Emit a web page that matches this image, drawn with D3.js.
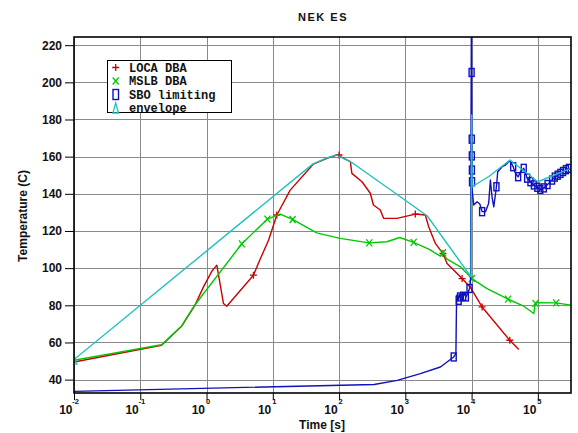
<!DOCTYPE html>
<html><head><meta charset="utf-8">
<script src="https://cdn.jsdelivr.net/npm/d3@7"></script>
<style>body{margin:0;background:#fff}</style>
</head><body>
<svg id="c" width="578" height="433"></svg>
<script>
// ---------------- data ----------------
const chartTitle = "NEK ES";
const xLabel = "Time [s]";
const yLabel = "Temperature (C)";
const xTickExps = [-2, -1, 0, 1, 2, 3, 4, 5];
const yTicks = [40, 60, 80, 100, 120, 140, 160, 180, 200, 220];
const seriesNames = ["LOCA DBA", "MSLB DBA", "SBO limiting", "envelope"];

const locaT = [0.01, 0.21, 0.42, 0.67, 0.90, 1.21, 1.43, 1.80, 2.02, 5.1, 6.46, 8.65, 11.5, 18.3, 41, 65.6, 93, 148, 156, 222, 296, 330, 419, 470, 748, 1415, 2005, 2250, 2840, 3380, 3700, 4260, 7180, 9600, 14400, 37700, 51500];
const locaV = [49.5, 58.5, 68.7, 80.1, 89.9, 98.5, 101.6, 81, 79.5, 96.2, 104.9, 115.1, 128.6, 142, 156, 159.1, 160.9, 157.3, 151, 146.5, 140.3, 134, 131.3, 126.8, 126.8, 129.1, 128.6, 122.3, 113.3, 109.7, 107.9, 102.5, 94.4, 89.6, 79.1, 61.2, 56.2];
const locaMarkT = [5.1, 11.5, 100, 1415, 3700, 7180, 14400, 37700];
const locaMarkV = [96.2, 128.6, 160.9, 129.1, 107.9, 94.4, 79.1, 61.2];

const mslbT = [0.01, 0.21, 0.42, 0.67, 3.41, 8.3, 12.9, 19.9, 46, 104, 286, 526, 822, 1335, 2300, 3000, 3380, 3700, 4200, 6780, 10100, 17100, 35500, 61200, 86800, 90000, 92000, 100000, 189000, 316000];
const mslbV = [50.4, 58.8, 68.9, 80.3, 113.1, 126.4, 129.1, 126.2, 119, 116, 113.6, 114.2, 116.5, 113.9, 110.1, 107.5, 106.5, 108.3, 105, 100.7, 94.4, 89, 83.3, 79.5, 75.6, 79, 81, 81.4, 81.3, 80.1];
const mslbMarkT = [3.41, 8.3, 19.9, 286, 1335, 3700, 10100, 35500, 92000, 189000];
const mslbMarkV = [113.1, 126.4, 126.2, 113.6, 113.9, 108.3, 94.4, 83.3, 81, 81.3];

const sboT = [0.01, 338, 755, 1685, 3380, 5370, 5800, 5850, 5900, 6000, 6200, 6380, 6500, 6690, 7000, 7460, 7800, 8200, 8730, 9300, 9650, 9950, 10000, 10050, 10080, 10100, 10150, 10180, 10770, 12100, 13300, 14400, 16200, 18100, 19200, 20400, 21600, 23700, 24800, 28900, 32400, 37700, 42400, 45900, 50400, 54600, 61200, 68900, 77300, 82000, 87000, 92000, 98000, 104000, 109000, 116000, 123000, 130000, 140000, 152000, 164000, 180000, 199000, 219000, 240000, 265000, 293000, 316000];
const sboV = [33.7, 37.4, 39.6, 43.2, 46.8, 52.2, 54, 66, 77.4, 85.4, 84, 82.7, 86, 84.5, 86, 84.9, 86.3, 84.5, 86.4, 89.1, 93.5, 250, 205.3, 169.4, 160.4, 152.8, 146.5, 142, 134, 135.7, 134.5, 130.4, 130.4, 134.9, 147.4, 138, 133, 143.8, 151.9, 154.6, 155.5, 157.8, 154.6, 151, 149.2, 151.9, 153.7, 148.4, 146.5, 145.5, 144.8, 144.2, 143.5, 142.8, 142.4, 142.6, 143.2, 143.8, 145, 146.2, 147.4, 149, 150, 151, 152, 153, 153.7, 152.8];
const sboMarkT = [5370, 6380, 6690, 7460, 8200, 9300, 10000, 10050, 10080, 10100, 10150, 14400, 23700, 42400, 50400, 61200, 68900, 77300, 87000, 98000, 109000, 123000, 140000, 164000, 180000, 199000, 219000, 240000, 265000, 293000];
const sboMarkV = [52.2, 82.7, 84.5, 84.9, 84.5, 89.1, 205.3, 169.4, 160.4, 152.8, 146.5, 130.4, 143.8, 154.6, 149.2, 153.7, 148.4, 146.5, 144.8, 143.5, 142.4, 143.2, 145, 147.4, 149, 150, 151, 152, 153, 153.7];

const envT = [0.01, 40, 65, 90, 160, 2130, 9800, 10000, 10180, 18000, 38000, 100000, 316000];
const envV = [50.8, 156, 159.3, 160.9, 156.6, 128.2, 95.3, 182.5, 143.8, 149.2, 158.2, 146.5, 153.7];
const envMarkT = [0.01];
const envMarkV = [50.8];

// ---------------- drawing ----------------
const colors = {loca: "#cc0000", mslb: "#00c800", sbo: "#1010c0", env: "#20c0c0"};
const svg = d3.select("#c");
const L = 74, R = 571, T = 37, B = 393;
const x = d3.scaleLog().domain([0.01, Math.pow(10, 5.5)]).range([L, R]);
const y = d3.scaleLinear().domain([32.8, 224.4]).range([B, T]);
const font = "'Liberation Sans', Arial, sans-serif";

svg.append("rect").attr("width", 578).attr("height", 433).attr("fill", "#fff");

// grid
const grid = svg.append("g").attr("stroke", "#8a8a8a").attr("stroke-width", 1);
xTickExps.forEach(e => {
  const px = Math.round(x(Math.pow(10, e))) + 0.5;
  grid.append("line").attr("x1", px).attr("x2", px).attr("y1", T).attr("y2", B);
});
yTicks.forEach(v => {
  const py = Math.round(y(v)) + 0.5;
  grid.append("line").attr("x1", L).attr("x2", R).attr("y1", py).attr("y2", py);
});

// axes
const yAxis = svg.append("g").attr("transform", `translate(${L},0)`)
  .call(d3.axisLeft(y).tickValues(yTicks).tickSize(9).tickPadding(3).tickFormat(d3.format("d")));
yAxis.select(".domain").remove();
yAxis.selectAll("text").attr("font-family", font).attr("font-weight", "bold").attr("font-size", 12).attr("fill", "#111");
yAxis.selectAll("line").attr("stroke", "#000");

const xAxis = svg.append("g").attr("transform", `translate(0,${B})`)
  .call(d3.axisBottom(x).tickValues(xTickExps.map(e => Math.pow(10, e))).tickSize(7).tickFormat(""));
xAxis.select(".domain").remove();
xAxis.selectAll("line").attr("stroke", "#000");
xAxis.selectAll(".tick").each(function(d, i) {
  const g = d3.select(this);
  g.append("text").attr("x", -2).attr("y", 21).attr("text-anchor", "end").attr("font-family", font)
    .attr("font-weight", "bold").attr("font-size", 12).attr("fill", "#111").text("10");
  g.append("text").attr("x", 1).attr("y", 11).attr("font-family", font).attr("font-weight", "bold")
    .attr("font-size", 7.5).attr("fill", "#111").text(xTickExps[i]);
});

// clip
svg.append("clipPath").attr("id", "clip").append("rect").attr("x", L).attr("y", T).attr("width", R - L).attr("height", B - T);
const plot = svg.append("g").attr("clip-path", "url(#clip)");
const line = d3.line().x(d => x(d[0])).y(d => y(d[1]));
const zip = (a, b) => a.map((v, i) => [v, b[i]]);

function marker(g, kind, cx, cy, color) {
  if (kind === "plus") {
    g.append("path").attr("d", `M${cx-3.5},${cy}H${cx+3.5}M${cx},${cy-3.5}V${cy+3.5}`).attr("stroke", color).attr("stroke-width", 1.3).attr("fill", "none");
  } else if (kind === "cross") {
    g.append("path").attr("d", `M${cx-3},${cy-3.5}L${cx+3},${cy+3.5}M${cx-3},${cy+3.5}L${cx+3},${cy-3.5}`).attr("stroke", color).attr("stroke-width", 1.3).attr("fill", "none");
  } else if (kind === "rect") {
    g.append("rect").attr("x", cx - 2.5).attr("y", cy - 4).attr("width", 5).attr("height", 8).attr("stroke", color).attr("stroke-width", 1.4).attr("fill", "none");
  } else if (kind === "tri") {
    g.append("path").attr("d", `M${cx},${cy-4.5}L${cx+2.8},${cy+4.5}L${cx-2.8},${cy+4.5}Z`).attr("stroke", color).attr("stroke-width", 1.3).attr("fill", "none");
  }
}

const series = [
  {t: locaT, v: locaV, mt: locaMarkT, mv: locaMarkV, c: colors.loca, m: "plus"},
  {t: mslbT, v: mslbV, mt: mslbMarkT, mv: mslbMarkV, c: colors.mslb, m: "cross"},
  {t: sboT, v: sboV, mt: sboMarkT, mv: sboMarkV, c: colors.sbo, m: "rect"},
  {t: envT, v: envV, mt: envMarkT, mv: envMarkV, c: colors.env, m: "tri"}
];
series.forEach(s => {
  plot.append("path").datum(zip(s.t, s.v)).attr("d", line).attr("fill", "none")
    .attr("stroke", s.c).attr("stroke-width", 1.4).attr("stroke-linejoin", "round");
  const mg = plot.append("g");
  s.mt.forEach((t, i) => marker(mg, s.m, x(t), y(s.mv[i]), s.c));
});

// frame
svg.append("rect").attr("x", L).attr("y", T).attr("width", R - L).attr("height", B - T)
  .attr("fill", "none").attr("stroke", "#000").attr("stroke-width", 1.6);

// legend
const lg = svg.append("g");
lg.append("rect").attr("x", 107.5).attr("y", 60.5).attr("width", 124).attr("height", 52).attr("fill", "#fff").attr("stroke", "#000").attr("stroke-width", 1);
series.forEach((s, i) => {
  const cy = 67.5 + i * 13.5;
  const g = lg.append("g");
  if (s.m === "rect") {
    g.append("rect").attr("x", 113).attr("y", cy - 5).attr("width", 5.5).attr("height", 10).attr("stroke", s.c).attr("stroke-width", 1.4).attr("fill", "none");
  } else if (s.m === "tri") {
    g.append("path").attr("d", `M115.7,${cy-5}L118.5,${cy+5}L112.9,${cy+5}Z`).attr("stroke", s.c).attr("stroke-width", 1.3).attr("fill", "none");
  } else {
    marker(g, s.m, 115.7, cy, s.c);
  }
  lg.append("text").attr("x", 129).attr("y", cy + 4).attr("font-family", "'Liberation Mono', 'Courier New', monospace")
    .attr("font-weight", "bold").attr("font-size", 12).attr("fill", "#111").text(seriesNames[i]);
});

// titles
svg.append("text").attr("x", 323).attr("y", 21).attr("text-anchor", "middle").attr("font-family", font)
  .attr("font-weight", "bold").attr("font-size", 11).attr("letter-spacing", "1.5px").attr("fill", "#111").text(chartTitle);
svg.append("text").attr("x", 322).attr("y", 429).attr("text-anchor", "middle").attr("font-family", font)
  .attr("font-weight", "bold").attr("font-size", 12).attr("fill", "#111").text(xLabel);
svg.append("text").attr("transform", "translate(27,216) rotate(-90)").attr("text-anchor", "middle").attr("font-family", font)
  .attr("font-weight", "bold").attr("font-size", 12).attr("fill", "#111").text(yLabel);
</script>
</body></html>
